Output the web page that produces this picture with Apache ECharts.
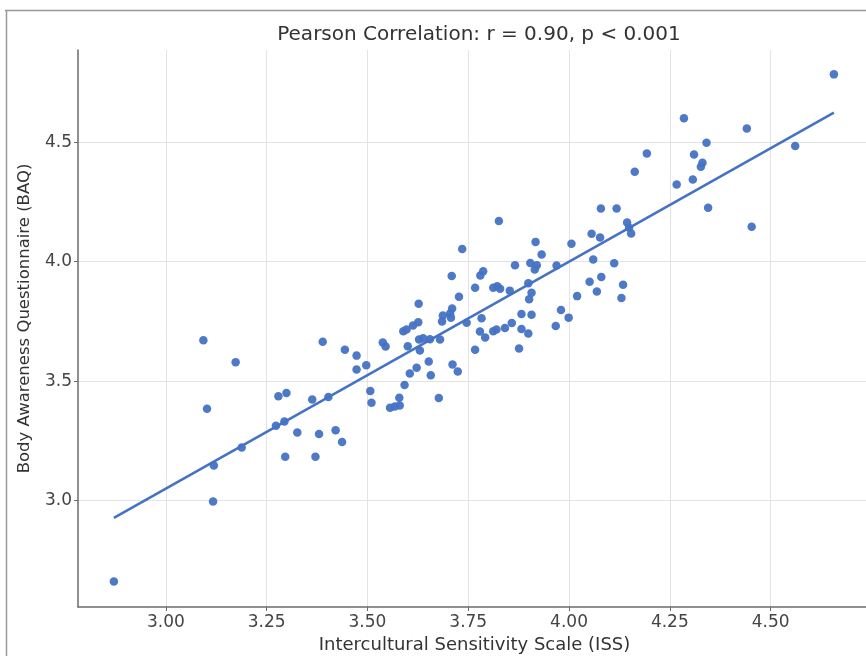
<!DOCTYPE html>
<html>
<head>
<meta charset="utf-8">
<title>Pearson Correlation</title>
<script src="https://cdn.jsdelivr.net/npm/echarts@6/dist/echarts.min.js"></script>
<style>
	html, body { margin: 0; padding: 0; background: #fff; }
	#main { width: 866px; height: 656px; }
</style>
</head>
<body>
<div id="main"></div>
<script>
// values
var issX = [2.871, 3.093, 3.102, 3.119, 3.117, 3.173, 3.188, 3.279, 3.299, 3.273,
	3.294, 3.296, 3.326, 3.389, 3.363, 3.371, 3.380, 3.403, 3.421, 3.437,
	3.444, 3.473, 3.473, 3.497, 3.507, 3.510, 3.538, 3.545, 3.556, 3.568,
	3.580, 3.579, 3.592, 3.605, 3.622, 3.652, 3.657, 3.677, 3.711, 3.724,
	3.630, 3.600, 3.628, 3.638, 3.655, 3.680, 3.589, 3.597, 3.613, 3.626,
	3.627, 3.710, 3.705, 3.687, 3.685, 3.707, 3.709, 3.727, 3.735, 3.746,
	3.767, 3.767, 3.779, 3.792, 3.783, 3.787, 3.780, 3.812, 3.822, 3.829,
	3.812, 3.820, 3.841, 3.858, 3.826, 3.853, 3.866, 3.876, 3.882, 3.907,
	3.882, 3.899, 3.899, 3.907, 3.901, 3.904, 3.920, 3.915, 3.917, 3.932,
	3.969, 3.967, 3.980, 3.999, 4.006, 4.020, 4.051, 4.060, 4.056, 4.077,
	4.069, 4.080, 4.079, 4.118, 4.112, 4.134, 4.130, 4.144, 4.149, 4.154,
	4.163, 4.193, 4.267, 4.285, 4.307, 4.310, 4.331, 4.327, 4.341, 4.345,
	4.441, 4.453, 4.561, 4.657];
var baqY = [2.662, 3.671, 3.385, 3.147, 2.997, 3.579, 3.222, 3.437, 3.451, 3.314,
	3.331, 3.184, 3.285, 3.665, 3.423, 3.184, 3.279, 3.434, 3.295, 3.246,
	3.632, 3.607, 3.549, 3.567, 3.459, 3.410, 3.662, 3.645, 3.389, 3.394,
	3.398, 3.431, 3.484, 3.532, 3.556, 3.582, 3.525, 3.430, 3.570, 3.541,
	3.628, 3.646, 3.674, 3.680, 3.676, 3.674, 3.709, 3.716, 3.733, 3.747,
	3.824, 3.804, 3.783, 3.775, 3.750, 3.766, 3.940, 3.853, 4.053, 3.745,
	3.891, 3.632, 3.708, 3.683, 3.763, 3.960, 3.942, 3.891, 3.897, 3.887,
	3.709, 3.716, 3.723, 3.744, 4.170, 3.879, 3.985, 3.637, 3.781, 3.778,
	3.718, 3.700, 3.910, 3.870, 3.843, 3.995, 3.985, 3.967, 4.083, 4.030,
	3.984, 3.731, 3.798, 3.766, 4.075, 3.856, 3.916, 4.009, 4.117, 4.101,
	3.875, 3.936, 4.223, 4.223, 3.994, 3.904, 3.848, 4.164, 4.142, 4.118,
	4.376, 4.453, 4.323, 4.600, 4.344, 4.449, 4.414, 4.397, 4.498, 4.226,
	4.557, 4.146, 4.484, 4.784];
// regression line ends
var fitX = [2.871, 4.657];
var fitY = [2.928, 4.624];
// tick labels
var xTicks = [3.00, 3.25, 3.50, 3.75, 4.00, 4.25, 4.50];
var yTicks = [3.0, 3.5, 4.0, 4.5];

var points = [];
for (var i = 0; i < issX.length; i++) {
	points.push([issX[i], baqY[i]]);
}
var fitLine = [];
for (var j = 0; j < fitX.length; j++) {
	fitLine.push([fitX[j], fitY[j]]);
}

var blue = '#4472c4';
var font = 'DejaVu Sans';
var myChart = echarts.init(document.getElementById('main'), null, { renderer: 'canvas' });
var option = {
	backgroundColor: '#fff',
	animation: false,
	title: {
		text: 'Pearson Correlation: r = 0.90, p < 0.001',
		left: 474,
		textAlign: 'center',
		top: 20,
		textStyle: { fontFamily: font, fontSize: 20, fontWeight: 'normal', color: '#333' }
	},
	grid: {
		left: 78,
		right: -5,
		top: 50,
		bottom: 49,
		outerBoundsMode: 'none'
	},
	xAxis: {
		type: 'value',
		min: 2.782,
		max: 4.749,
		name: 'Intercultural Sensitivity Scale (ISS)',
		nameLocation: 'middle',
		nameGap: 28,
		nameTextStyle: { fontFamily: font, fontSize: 18, color: '#333' },
		axisLine: { show: true, onZero: false, lineStyle: { color: '#6b6b6b', width: 1.5 } },
		axisTick: { show: true, length: 4, customValues: xTicks, lineStyle: { color: '#6b6b6b' } },
		axisLabel: {
			customValues: xTicks,
			margin: 7,
			fontFamily: font,
			fontSize: 17,
			color: '#444',
			formatter: function (v) { return v.toFixed(2); }
		},
		splitLine: { show: true, lineStyle: { color: '#e3e3e3', width: 1 } }
	},
	yAxis: {
		type: 'value',
		min: 2.555,
		max: 4.886,
		name: 'Body Awareness Questionnaire (BAQ)',
		nameLocation: 'middle',
		nameRotate: 90,
		nameGap: 45,
		nameTextStyle: { fontFamily: font, fontSize: 16.5, color: '#333', padding: [0, 0, 0, 20] },
		axisLine: { show: true, onZero: false, lineStyle: { color: '#6b6b6b', width: 1.5 } },
		axisTick: { show: true, length: 4, customValues: yTicks, lineStyle: { color: '#6b6b6b' } },
		axisLabel: {
			customValues: yTicks,
			margin: 6,
			fontFamily: font,
			fontSize: 17,
			color: '#444',
			formatter: function (v) { return v.toFixed(1); }
		},
		splitLine: { show: true, lineStyle: { color: '#e3e3e3', width: 1 } }
	},
	graphic: [
		{ type: 'line', shape: { x1: 5, y1: 10.5, x2: 866, y2: 10.5 }, style: { stroke: '#999', lineWidth: 1.5 }, silent: true },
		{ type: 'line', shape: { x1: 6.5, y1: 10, x2: 6.5, y2: 656 }, style: { stroke: '#999', lineWidth: 1.5 }, silent: true }
	],
	series: [
		{
			name: 'data',
			type: 'scatter',
			data: points,
			symbolSize: 8.5,
			itemStyle: { color: blue, opacity: 0.95 }
		},
		{
			name: 'fit',
			type: 'line',
			data: fitLine,
			showSymbol: false,
			lineStyle: { color: blue, width: 2.5 },
			z: 3
		}
	]
};
myChart.setOption(option);
</script>
</body>
</html>
